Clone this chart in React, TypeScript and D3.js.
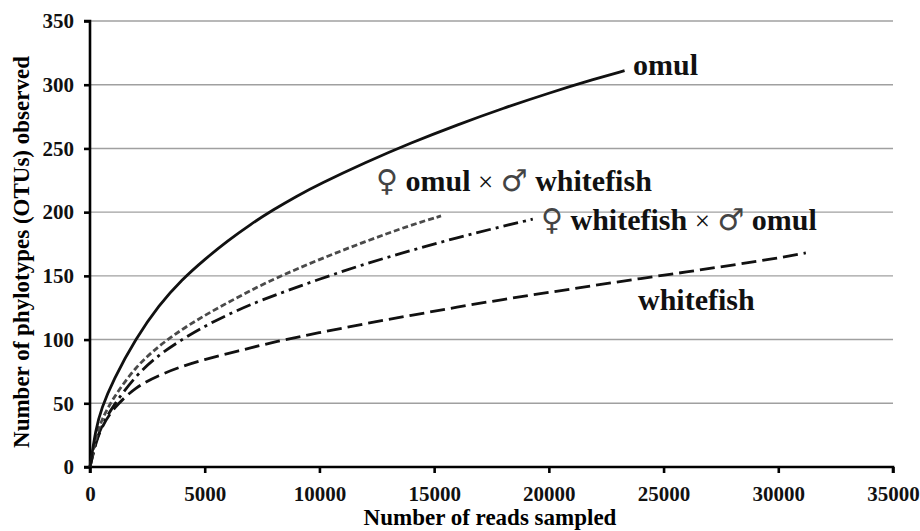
import React, { useEffect, useRef } from 'react';
import * as d3 from 'd3';

// values
const omul = [[0,0],[250,30],[500,46],[1000,68],[2000,101],[3000,127],[4000,147],[5000,163],[6000,177.5],[7000,190.5],[8000,202],[9000,212.5],[10000,222],[12000,239],[14000,254.5],[16000,268.5],[18000,281.5],[20000,293.5],[22000,304.5],[23300,311]];
const omulXwhitefish = [[0,0],[250,23],[500,37],[1000,54],[2000,79],[3000,95],[4000,108],[5000,119],[6000,129],[7000,138.5],[8000,147.5],[10000,163],[12000,177],[14000,190],[15300,197]];
const whitefishXomul = [[0,0],[250,20],[500,32],[1000,48],[2000,72],[3000,88],[4000,100],[5000,110.5],[6000,119.5],[7000,127.5],[8000,134.5],[10000,147.5],[12000,159.5],[14000,170],[16000,180],[18000,189],[19300,194.5]];
const whitefish = [[0,0],[250,19],[500,31],[1000,46],[2000,63],[3000,72],[4000,79],[5000,84.5],[6000,89],[7000,93.5],[8000,98],[10000,105.5],[12000,112.5],[14000,119],[16000,125.5],[18000,131.5],[20000,137],[22000,142.5],[24000,148],[26000,153],[28000,158.5],[30000,164],[31200,168]];

const xTicks = [0, 5000, 10000, 15000, 20000, 25000, 30000, 35000];
const yTicks = [0, 50, 100, 150, 200, 250, 300, 350];

const margin = { top: 21, right: 27, bottom: 64, left: 90 };
const width = 920;
const height = 531;
const font = '"Liberation Serif", "Times New Roman", serif';

export default function App() {
  const ref = useRef<SVGSVGElement>(null);

  useEffect(() => {
    const svg = d3.select(ref.current);
    svg.selectAll('*').remove();

    const x = d3.scaleLinear().domain([0, 35000]).range([margin.left, width - margin.right]);
    const y = d3.scaleLinear().domain([0, 350]).range([height - margin.bottom, margin.top]);

    // gridlines
    svg.append('g')
      .selectAll('line')
      .data(yTicks.filter(d => d > 0))
      .join('line')
      .attr('x1', x(0)).attr('x2', x(35000))
      .attr('y1', d => y(d)).attr('y2', d => y(d))
      .attr('stroke', '#a0a0a0').attr('stroke-width', 1.4);

    // axes
    const xAxis = svg.append('g')
      .attr('transform', `translate(0,${y(0)})`)
      .call(d3.axisBottom(x).tickValues(xTicks).tickSize(6).tickPadding(13).tickFormat(d3.format('d')));
    const yAxis = svg.append('g')
      .attr('transform', `translate(${x(0)},0)`)
      .call(d3.axisLeft(y).tickValues(yTicks).tickSize(6).tickPadding(10));

    [xAxis, yAxis].forEach(a => {
      a.select('.domain').attr('stroke', '#000').attr('stroke-width', 2.6);
      a.selectAll('.tick line').attr('stroke', '#000').attr('stroke-width', 2.6);
      a.selectAll('.tick text')
        .attr('font-family', font).attr('font-size', 21).attr('font-weight', 'bold').attr('fill', '#111');
    });
    xAxis.select('.domain').attr('d', `M${x(0)},6V0H${x(35000)}V6`);
    yAxis.select('.domain').attr('d', `M-6,${y(350)}H0V${y(0)}H-6`);

    // axis titles
    svg.append('text')
      .attr('x', 490).attr('y', 525)
      .attr('text-anchor', 'middle')
      .attr('font-family', font).attr('font-size', 23).attr('font-weight', 'bold')
      .text('Number of reads sampled');
    svg.append('text')
      .attr('transform', `translate(29,${(y(0) + y(350)) / 2 + 8}) rotate(-90)`)
      .attr('text-anchor', 'middle')
      .attr('font-family', font).attr('font-size', 23).attr('font-weight', 'bold')
      .text('Number of phylotypes (OTUs) observed');

    // curves
    const line = d3.line<number[]>()
      .x(d => x(d[0]))
      .y(d => y(d[1]))
      .curve(d3.curveBasis);

    const series = [
      { data: whitefish, dash: '15,6', color: '#111' },
      { data: whitefishXomul, dash: '15,5,3,5', color: '#111' },
      { data: omulXwhitefish, dash: '6,3', color: '#4a4a4a' },
      { data: omul, dash: null, color: '#111' },
    ];
    series.forEach(s => {
      svg.append('path')
        .datum(s.data)
        .attr('fill', 'none')
        .attr('stroke', s.color)
        .attr('stroke-width', 2.8)
        .attr('stroke-dasharray', s.dash)
        .attr('d', line);
    });

    // labels
    const labels = [
      { x: 633, y: 75, parts: [['omul', 'b']] },
      { x: 376, y: 191, parts: [['♀', 's'], [' omul ', 'b'], ['×', 'r'], [' ', 'b'], ['♂', 's'], [' whitefish', 'b']] },
      { x: 541, y: 230, parts: [['♀', 's'], [' whitefish ', 'b'], ['×', 'r'], [' ', 'b'], ['♂', 's'], [' omul', 'b']] },
      { x: 638, y: 310, parts: [['whitefish', 'b']] },
    ];
    labels.forEach(l => {
      const t = svg.append('text')
        .attr('x', l.x).attr('y', l.y)
        .attr('font-family', font).attr('font-size', 30).attr('fill', '#111');
      l.parts.forEach(([s, k]) => {
        const sp = t.append('tspan').text(s);
        if (k === 'b') sp.attr('font-weight', 'bold');
        if (k === 'r') sp.attr('font-weight', 'normal').attr('font-size', 27);
        if (k === 's') sp.attr('font-weight', 'normal').attr('font-size', 30)
          .attr('font-family', '"DejaVu Sans", sans-serif').attr('fill', '#444');
      });
    });
  }, []);

  return (
    <svg ref={ref} width={width} height={height}
      style={{ position: 'absolute', left: 0, top: 0, background: '#fff' }} />
  );
}
